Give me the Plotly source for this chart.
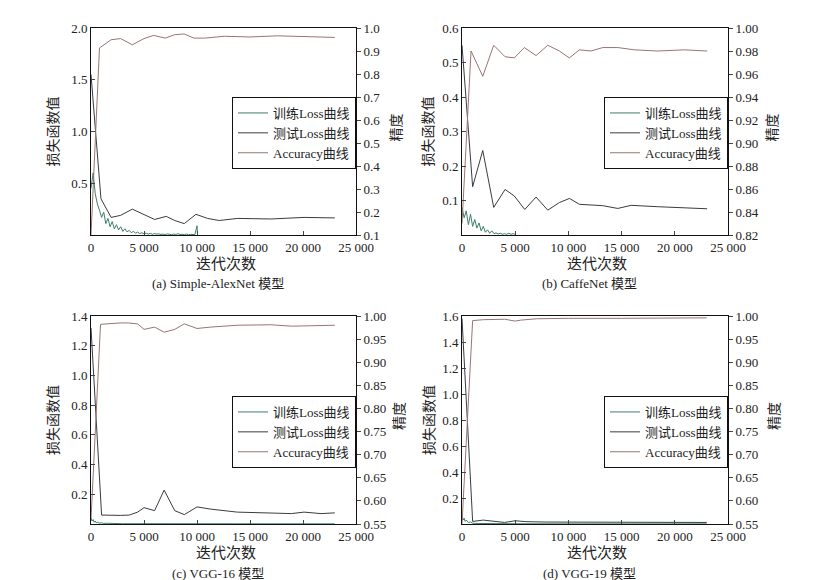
import plotly.graph_objects as go

W, H = 831, 580
SERIF = "Liberation Serif, Noto Sans CJK SC, serif"

C_TRAIN = "#3d7f68"
C_TEST = "#3a3a44"
C_ACC = "#9a7474"

legend_names = ["训练Loss曲线", "测试Loss曲线", "Accuracy曲线"]
x_ticks = [0, 5000, 10000, 15000, 20000, 25000]
x_ticktext = ["0", "5 000", "10 000", "15 000", "20 000", "25 000"]

# (a) Simple-AlexNet
a_train_iter = [0, 200, 400, 600, 800, 1000, 1200, 1400, 1600, 1800, 2000, 2200, 2400, 2600, 2800,
                3000, 3200, 3400, 3600, 3800, 4000, 4200, 4400, 4600, 4800, 5000, 5200, 5400, 5600,
                5800, 6000, 6200, 6400, 6600, 6800, 7000, 7200, 7400, 7600, 7800, 8000, 8200, 8400,
                8600, 8800, 9000, 9200, 9400, 9600, 9800, 10000, 10050]
a_train_loss = [0.45, 0.60, 0.40, 0.30, 0.24, 0.17, 0.22, 0.11, 0.16, 0.08, 0.13, 0.06, 0.10, 0.05,
                0.08, 0.035, 0.06, 0.03, 0.045, 0.022, 0.035, 0.018, 0.028, 0.014, 0.022, 0.011, 0.018,
                0.009, 0.016, 0.007, 0.014, 0.008, 0.011, 0.005, 0.009, 0.004, 0.011, 0.005, 0.003,
                0.009, 0.005, 0.013, 0.004, 0.007, 0.003, 0.009, 0.003, 0.005, 0.002, 0.004, 0.09, 0.004]
a_test_iter = [0, 940, 1900, 2800, 3900, 5000, 6000, 7100, 7900, 8800, 9900, 11000, 12100, 13800,
               17000, 20100, 23000]
a_test_loss = [1.55, 0.35, 0.17, 0.19, 0.25, 0.20, 0.15, 0.18, 0.14, 0.11, 0.20, 0.16, 0.14, 0.16,
               0.155, 0.17, 0.165]
a_acc_iter = [0, 800, 1900, 2800, 3900, 5000, 5900, 7000, 7900, 8800, 9700, 10700, 12600, 15000,
              17600, 20100, 23000]
a_acc = [0.10, 0.913, 0.949, 0.954, 0.927, 0.954, 0.968, 0.956, 0.971, 0.974, 0.956, 0.956, 0.964,
         0.961, 0.966, 0.964, 0.959]

# (b) CaffeNet
b_train_iter = [0, 200, 400, 600, 800, 1000, 1200, 1400, 1600, 1800, 2000, 2200, 2400, 2600, 2800,
                3000, 3200, 3400, 3600, 3800, 4000, 4200, 4400, 4600, 4800, 5000]
b_train_loss = [0.08, 0.05, 0.07, 0.03, 0.06, 0.025, 0.045, 0.02, 0.035, 0.012, 0.025, 0.008, 0.015,
                0.005, 0.012, 0.004, 0.006, 0.003, 0.005, 0.002, 0.004, 0.002, 0.005, 0.002, 0.004, 0.002]
b_test_iter = [0, 1000, 1950, 2980, 4050, 4920, 5900, 6960, 8060, 9150, 10100, 11030, 12130, 13230,
               14640, 15900, 18400, 20900, 23040]
b_test_loss = [0.55, 0.14, 0.245, 0.08, 0.132, 0.113, 0.074, 0.11, 0.072, 0.094, 0.106, 0.089, 0.087,
               0.085, 0.077, 0.086, 0.082, 0.078, 0.076]
b_acc_iter = [0, 850, 1950, 2980, 4050, 4920, 5860, 6960, 8060, 9150, 10090, 11030, 12130, 13230,
              14640, 16200, 18400, 20900, 23040]
b_acc = [0.83, 0.980, 0.958, 0.985, 0.975, 0.974, 0.983, 0.976, 0.985, 0.980, 0.974, 0.981, 0.980,
         0.983, 0.983, 0.981, 0.980, 0.981, 0.980]

# (c) VGG-16
c_train_iter = [0, 100, 200, 300, 400, 500, 600, 800, 1000, 1200, 1500, 2000, 3000, 5000, 10000,
                15000, 20000, 23000]
c_train_loss = [0.04, 0.02, 0.03, 0.012, 0.02, 0.008, 0.012, 0.006, 0.008, 0.004, 0.005, 0.003, 0.002,
                0.002, 0.001, 0.001, 0.001, 0.001]
c_test_iter = [0, 1000, 2800, 3600, 4400, 5000, 6000, 6900, 7900, 8800, 10000, 11300, 13800, 17000,
               18900, 20100, 21700, 23000]
c_test_loss = [1.32, 0.06, 0.058, 0.06, 0.08, 0.11, 0.09, 0.228, 0.09, 0.063, 0.115, 0.10, 0.08,
               0.075, 0.07, 0.08, 0.07, 0.075]
c_acc_iter = [0, 900, 2800, 3500, 4400, 5000, 6000, 6900, 7900, 8800, 10000, 11300, 13800, 17000,
              18900, 23000]
c_acc = [0.56, 0.982, 0.985, 0.985, 0.983, 0.971, 0.976, 0.965, 0.971, 0.983, 0.973, 0.976, 0.980,
         0.981, 0.978, 0.980]

# (d) VGG-19
d_train_iter = [0, 100, 200, 300, 400, 600, 800, 1000, 1500, 2000, 3000, 5000, 10000, 15000, 20000, 23000]
d_train_loss = [0.06, 0.03, 0.045, 0.02, 0.03, 0.012, 0.015, 0.006, 0.004, 0.003, 0.002, 0.002, 0.001,
                0.001, 0.001, 0.001]
d_test_iter = [0, 1000, 2000, 3000, 4000, 5000, 6000, 8000, 10000, 15000, 20000, 23000]
d_test_loss = [1.58, 0.02, 0.03, 0.02, 0.012, 0.025, 0.018, 0.015, 0.015, 0.012, 0.015, 0.012]
d_acc_iter = [0, 1000, 2000, 4000, 5000, 5500, 7000, 10000, 15000, 20000, 23000]
d_acc = [0.55, 0.990, 0.992, 0.993, 0.989, 0.991, 0.994, 0.995, 0.995, 0.995, 0.996]

panels = [
    dict(caption="(a) Simple-AlexNet 模型", box=(83, 348, 20, 227),
         train=(a_train_iter, a_train_loss), test=(a_test_iter, a_test_loss), acc=(a_acc_iter, a_acc),
         yl=[0, 2.0], yl_ticks=[0.5, 1.0, 1.5, 2.0], yl_fmt="%.1f",
         yr=[0.1, 1.0], yr_ticks=[0.1, 0.2, 0.3, 0.4, 0.5, 0.6, 0.7, 0.8, 0.9, 1.0], yr_fmt="%.1f",
         legend_top=89, ytitle_x=45, rtitle_x=388, xt_dy=29, cap_dy=48),
    dict(caption="(b) CaffeNet 模型", box=(454, 720, 20, 227),
         train=(b_train_iter, b_train_loss), test=(b_test_iter, b_test_loss), acc=(b_acc_iter, b_acc),
         yl=[0, 0.6], yl_ticks=[0.1, 0.2, 0.3, 0.4, 0.5, 0.6], yl_fmt="%.1f",
         yr=[0.82, 1.0], yr_ticks=[0.82, 0.84, 0.86, 0.88, 0.90, 0.92, 0.94, 0.96, 0.98, 1.00], yr_fmt="%.2f",
         legend_top=89, ytitle_x=420, rtitle_x=764, xt_dy=29, cap_dy=48),
    dict(caption="(c) VGG-16 模型", box=(83, 348, 308, 516),
         train=(c_train_iter, c_train_loss), test=(c_test_iter, c_test_loss), acc=(c_acc_iter, c_acc),
         yl=[0, 1.4], yl_ticks=[0.2, 0.4, 0.6, 0.8, 1.0, 1.2, 1.4], yl_fmt="%.1f",
         yr=[0.55, 1.0], yr_ticks=[0.55, 0.60, 0.65, 0.70, 0.75, 0.80, 0.85, 0.90, 0.95, 1.00], yr_fmt="%.2f",
         legend_top=388, ytitle_x=45, rtitle_x=391, xt_dy=29, cap_dy=49),
    dict(caption="(d) VGG-19 模型", box=(454, 720, 308, 516),
         train=(d_train_iter, d_train_loss), test=(d_test_iter, d_test_loss), acc=(d_acc_iter, d_acc),
         yl=[0, 1.6], yl_ticks=[0.2, 0.4, 0.6, 0.8, 1.0, 1.2, 1.4, 1.6], yl_fmt="%.1f",
         yr=[0.55, 1.0], yr_ticks=[0.55, 0.60, 0.65, 0.70, 0.75, 0.80, 0.85, 0.90, 0.95, 1.00], yr_fmt="%.2f",
         legend_top=388, ytitle_x=421, rtitle_x=766, xt_dy=29, cap_dy=49),
]

fig = go.Figure()
layout = {}
annotations = []
tick_font = dict(family=SERIF, size=13, color="#222")


def note(text, x, y, size, angle=0):
    return dict(text=text, x=x / W, y=1 - y / H, xref="paper", yref="paper",
                xanchor="center", yanchor="middle", showarrow=False, textangle=angle,
                font=dict(family=SERIF, size=size, color="#222"))


for k, p in enumerate(panels):
    n = k + 1
    xs = "" if n == 1 else str(n)
    yl_n = 2 * k + 1
    yr_n = 2 * k + 2
    yl_s = "" if yl_n == 1 else str(yl_n)
    yr_s = str(yr_n)
    leg = "legend" if n == 1 else "legend%d" % n
    x0, x1, top, bottom = p["box"]
    xdom = [x0 / W, x1 / W]
    ydom = [1 - bottom / H, 1 - top / H]

    layout["xaxis" + xs] = dict(
        domain=xdom, range=[0, 25000], anchor="y" + yl_s,
        tickvals=x_ticks, ticktext=x_ticktext, ticks="inside", ticklen=4,
        showline=True, linecolor="#111", linewidth=1, mirror=True,
        showgrid=False, zeroline=False, tickfont=tick_font, automargin=False,
    )
    layout["yaxis" + yl_s] = dict(
        domain=ydom, range=p["yl"], anchor="x" + xs,
        tickvals=p["yl_ticks"], ticktext=[p["yl_fmt"] % v for v in p["yl_ticks"]],
        ticks="inside", ticklen=4, showline=True, linecolor="#111", linewidth=1,
        showgrid=False, zeroline=False, tickfont=tick_font, automargin=False,
    )
    layout["yaxis" + yr_s] = dict(
        range=p["yr"], anchor="x" + xs, overlaying="y" + yl_s, side="right",
        tickvals=p["yr_ticks"], ticktext=[p["yr_fmt"] % v for v in p["yr_ticks"]],
        ticks="outside", ticklen=4, showline=True, linecolor="#111", linewidth=1,
        showgrid=False, zeroline=False, tickfont=tick_font, automargin=False,
    )

    series = [(p["train"], C_TRAIN, "y" + yl_s), (p["test"], C_TEST, "y" + yl_s), (p["acc"], C_ACC, "y" + yr_s)]
    for name, ((xv, yv), color, ya) in zip(legend_names, series):
        fig.add_trace(go.Scatter(
            x=xv, y=yv, mode="lines", name=name,
            line=dict(color=color, width=1),
            xaxis="x" + xs, yaxis=ya, legend=leg,
        ))

    layout[leg] = dict(
        x=x1 / W, y=1 - p["legend_top"] / H, xanchor="right", yanchor="top",
        xref="paper", yref="paper",
        bgcolor="white", bordercolor="#111", borderwidth=1,
        font=dict(family=SERIF, size=13, color="#222"),
        tracegroupgap=0, itemwidth=30,
    )

    cx = (x0 + x1) / 2
    cy = (top + bottom) / 2
    annotations.append(note("迭代次数", cx + 2, bottom + p["xt_dy"], 15))
    annotations.append(note(p["caption"], cx - 6, bottom + p["cap_dy"], 13))
    annotations.append(note("损失函数值", p["ytitle_x"], cy, 14, -90))
    annotations.append(note("精度", p["rtitle_x"], cy - 4, 14, -90))

fig.update_layout(
    width=W, height=H,
    margin=dict(l=0, r=0, t=0, b=0),
    paper_bgcolor="white", plot_bgcolor="white",
    showlegend=True,
    annotations=annotations,
    **layout,
)

fig.write_html("out.html")
